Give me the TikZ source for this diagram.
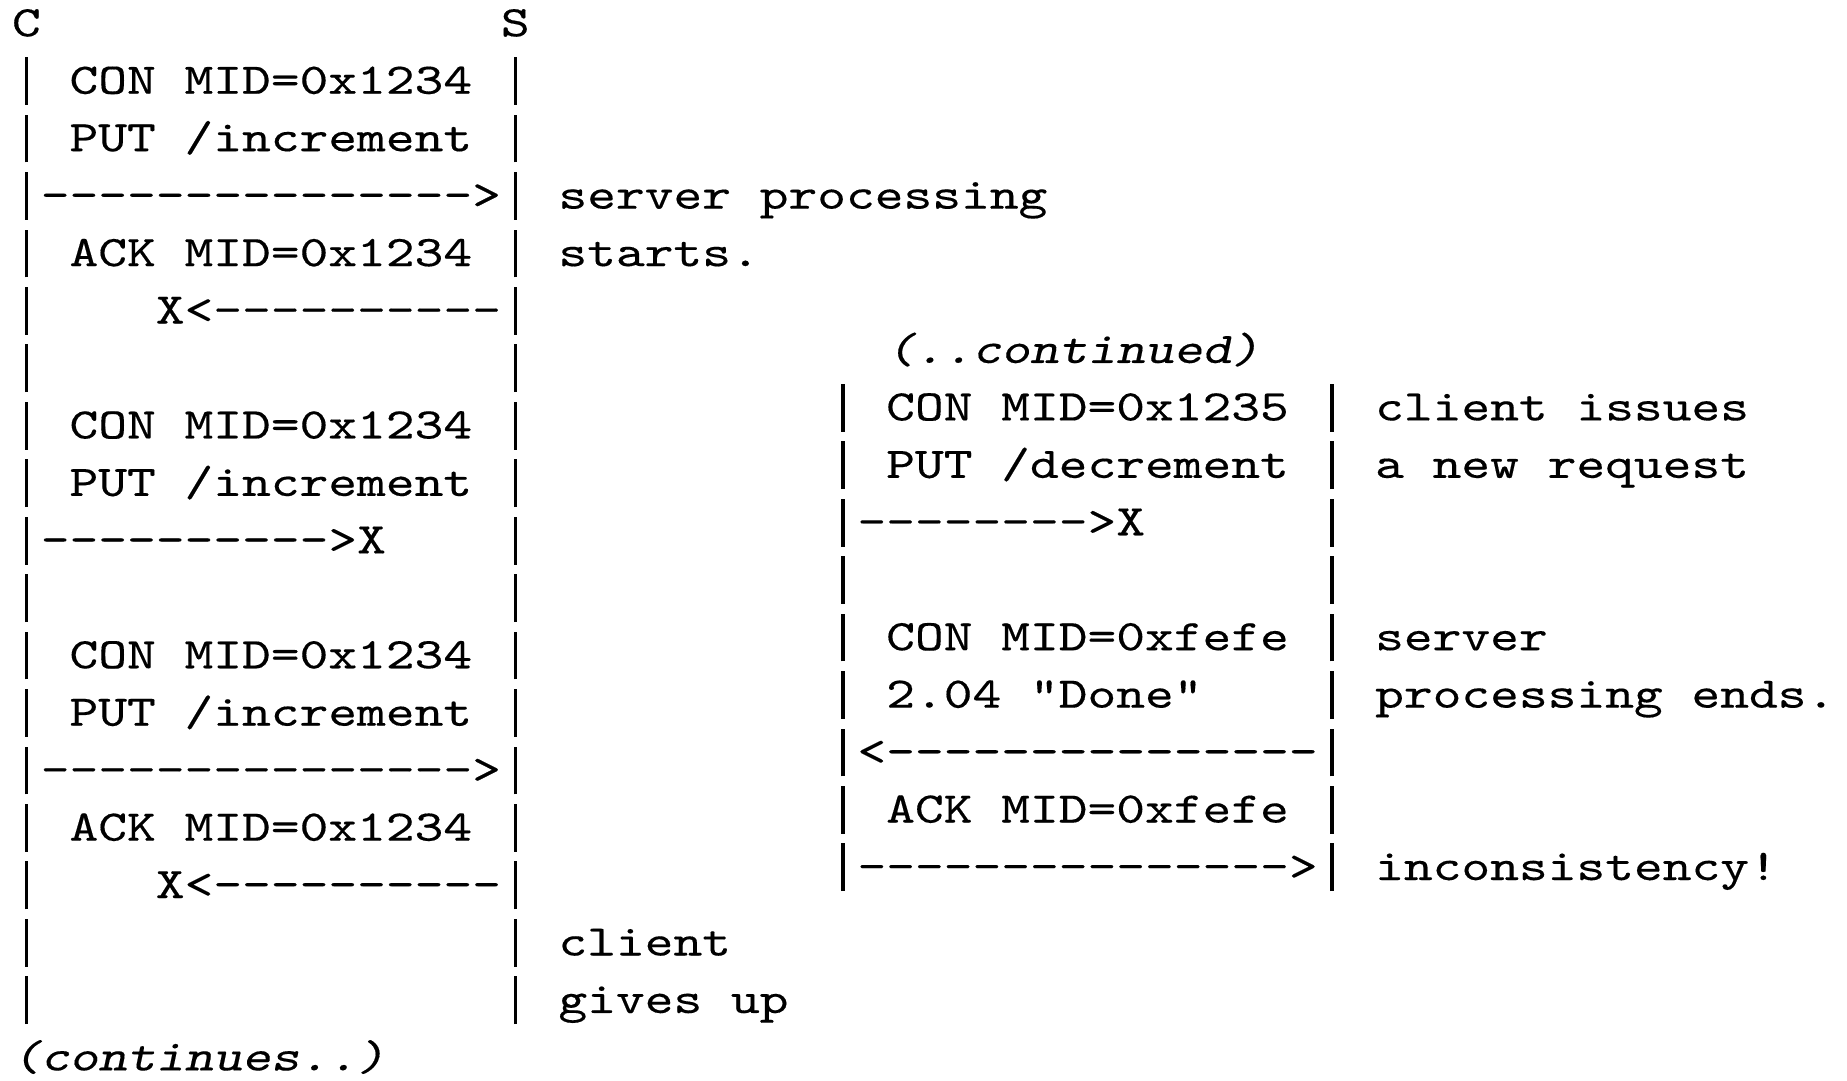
\documentclass[tikz,border=0pt]{standalone}
\usepackage{fontspec}
\newfontfamily\asciifont{lmmono10-regular}[Extension=.otf,ItalicFont=lmmonoslant10-regular,FakeStretch=1.2536,FakeBold=0.3]
\newcommand\lanebar{\makebox[14.38pt]{\rule[-5.6pt]{1.6pt}{23.9pt}}}
\usetikzlibrary{positioning}

\begin{document}
\begin{tikzpicture}[x=0.5pt,y=-0.5pt,
  txt/.style={anchor=base west,inner sep=0pt,font=\asciifont\fontsize{21.85pt}{26pt}\selectfont},
  note/.style={txt,font=\asciifont\fontsize{21.85pt}{26pt}\selectfont\itshape},
  grid/.style={x=14.38pt,y=-28.725pt}]
\path[use as bounding box,fill=white] (0,0) rectangle (1847,1081);

% first exchange
\begin{scope}[shift={(11.62,36.3)},grid]
\node[txt] (C) at (0,0) {C};
\node[txt] (S) at (17,0) {S};
\foreach \r in {1,...,17} {
  \node[txt] (cL\r) at (0,\r) {\lanebar};
  \node[txt] (sL\r) at (17,\r) {\lanebar};
}
\node[txt] (con1) at (2,1) {CON MID=0x1234};
\node[txt] (put1) at (2,2) {PUT /increment};
\node[txt] (req1) at (1,3) {--------------->};
\node[txt] (srv1) at (19,3) {server processing};
\node[txt] (ack1) at (2,4) {ACK MID=0x1234};
\node[txt] (srv2) at (19,4) {starts.};
\node[txt] (lost1) at (5,5) {X<----------};
\node[txt] (con2) at (2,7) {CON MID=0x1234};
\node[txt] (put2) at (2,8) {PUT /increment};
\node[txt] (lost2) at (1,9) {---------->X};
\node[txt] (con3) at (2,11) {CON MID=0x1234};
\node[txt] (put3) at (2,12) {PUT /increment};
\node[txt] (req3) at (1,13) {--------------->};
\node[txt] (ack3) at (2,14) {ACK MID=0x1234};
\node[txt] (lost3) at (5,15) {X<----------};
\node[txt] (cli1) at (19,16) {client};
\node[txt] (cli2) at (19,17) {gives up};
\node[note] (more) at (0,18) {(continues..)};
\end{scope}

% second exchange
\begin{scope}[shift={(828.3,362.95)},grid]
\node[note] (cont) at (2,0) {(..continued)};
\foreach \r in {1,...,9} {
  \node[txt] (cR\r) at (0,\r) {\lanebar};
  \node[txt] (sR\r) at (17,\r) {\lanebar};
}
\node[txt] (con4) at (2,1) {CON MID=0x1235};
\node[txt] (cli3) at (19,1) {client issues};
\node[txt] (put4) at (2,2) {PUT /decrement};
\node[txt] (cli4) at (19,2) {a new request};
\node[txt] (lost4) at (1,3) {-------->X};
\node[txt] (con5) at (2,5) {CON MID=0xfefe};
\node[txt] (srv3) at (19,5) {server};
\node[txt] (rsp5) at (2,6) {2.04 "Done"};
\node[txt] (srv4) at (19,6) {processing ends.};
\node[txt] (rsp6) at (1,7) {<---------------};
\node[txt] (ack5) at (2,8) {ACK MID=0xfefe};
\node[txt] (req5) at (1,9) {--------------->};
\node[txt] (bad) at (19,9) {inconsistency!};
\end{scope}
\end{tikzpicture}
\end{document}
